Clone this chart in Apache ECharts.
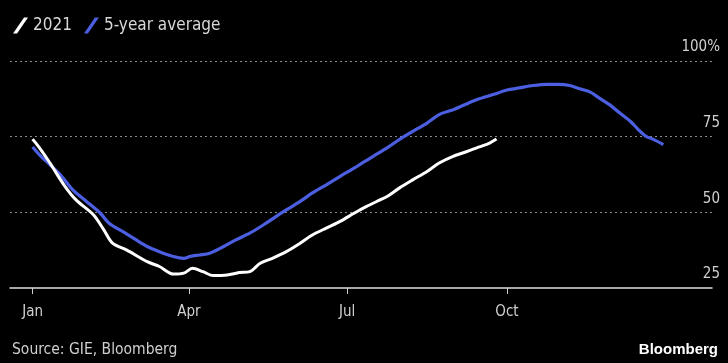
<!DOCTYPE html>
<html><head><meta charset="utf-8">
<script src="https://cdn.jsdelivr.net/npm/echarts@6/dist/echarts.min.js"></script>
<style>html,body{margin:0;padding:0;background:#000;}#c{width:728px;height:363px;}</style>
</head><body><div id="c"></div>
<script>
// Day-of-year (0 = Jan 1) and storage fullness in %
const days2021 = [0,4,10,18,25,35,41,46,54,66,73,81,87,92,98,104,112,119,125,131,138,146,154,161,169,177,185,192,200,204,211,219,227,234,242,250,257,263,267];
const values2021 = [74.2,71.3,66.3,59.1,54.1,49.2,44.2,39.8,37.6,33.7,32.1,29.6,29.9,31.5,30.4,29.1,29.3,30.1,30.4,33.2,34.8,37.0,39.8,42.5,44.8,47.0,49.7,51.9,54.1,55.2,58.0,60.8,63.5,66.3,68.5,70.1,71.6,72.9,74.2];
const daysAvg = [0,4,10,16,23,31,39,44,52,58,66,73,81,87,91,96,102,110,117,125,133,140,146,154,161,169,177,185,190,196,204,211,219,227,234,242,250,257,265,273,280,288,296,303,309,315,321,326,332,338,344,349,353,357,363];
const valuesAvg = [71.6,69.0,65.7,62.4,57.5,53.6,49.7,46.4,43.6,41.5,38.7,37.0,35.4,34.8,35.5,35.9,36.5,38.7,40.9,43.1,45.9,48.6,50.8,53.6,56.4,59.1,61.9,64.6,66.4,68.5,71.3,74.0,76.8,79.5,82.3,83.9,85.9,87.5,88.9,90.4,91.1,91.9,92.3,92.3,91.9,90.8,89.7,87.8,85.6,82.8,80.1,77.1,75.1,74.2,72.4];
const tickDays = [0,90,181,273];
const tickLabels = ['Jan','Apr','Jul','Oct'];
const yTicks = [25,50,75,100];
const seriesNames = ['2021','5-year average'];

const zip = (a,b) => a.map((d,i) => [d,b[i]]);
const FONT = 'DejaVu Sans Condensed';
const chart = echarts.init(document.getElementById('c'));
chart.setOption({
  backgroundColor: '#000',
  animation: false,
  textStyle: {fontFamily: FONT},
  legend: {
    left: 8, top: 12, itemWidth: 15, itemHeight: 16, itemGap: 12,
    icon: 'path://M0,16 L4,16 L15,0 L11,0 Z',
    textStyle: {color: '#d8d8d8', fontSize: 17, fontFamily: FONT},
    data: seriesNames
  },
  grid: {left: 10, right: 16, top: 61, bottom: 75},
  xAxis: {
    type: 'value', min: -13, max: 391,
    axisLine: {show: true, lineStyle: {color: '#e0e0e0', width: 1.5}},
    axisTick: {show: true, customValues: tickDays, length: 6, lineStyle: {color: '#cfcfcf'}},
    axisLabel: {customValues: tickDays, color: '#d0d0d0', fontSize: 15, margin: 17, fontFamily: FONT,
      formatter: v => tickLabels[tickDays.indexOf(v)] || ''},
    splitLine: {show: false}
  },
  yAxis: {
    type: 'value', position: 'right', min: 25, max: 100, interval: 25,
    axisLine: {show: false}, axisTick: {show: false},
    axisLabel: {color: '#d0d0d0', fontSize: 15, fontFamily: FONT, align: 'right', margin: 8,
      verticalAlign: 'bottom', padding: [0,0,6,0],
      formatter: v => yTicks.includes(v) ? (v === 100 ? '100%' : String(v)) : ''},
    splitLine: {show: true, showMinLine: false, lineStyle: {color: '#8a8a8a', type: [2,3], width: 1}}
  },
  series: [
    {name: seriesNames[0], type: 'line', data: zip(days2021, values2021), showSymbol: false, smooth: 0.3,
     z: 3, color: '#ffffff', lineStyle: {color: '#ffffff', width: 3}},
    {name: seriesNames[1], type: 'line', data: zip(daysAvg, valuesAvg), showSymbol: false, smooth: 0.3,
     z: 2, color: '#4c5fe0', lineStyle: {color: '#4c5fe0', width: 3.2}}
  ],
  graphic: [
    {type: 'text', left: 12, top: 342, style: {text: 'Source: GIE, Bloomberg', fill: '#cfcfcf', font: '15.5px "DejaVu Sans Condensed"'}},
    {type: 'text', right: 10, top: 342, style: {text: 'Bloomberg', fill: '#ffffff', font: 'bold 15px "Liberation Sans Narrow", "Liberation Sans", sans-serif'}}
  ]
});
</script></body></html>
